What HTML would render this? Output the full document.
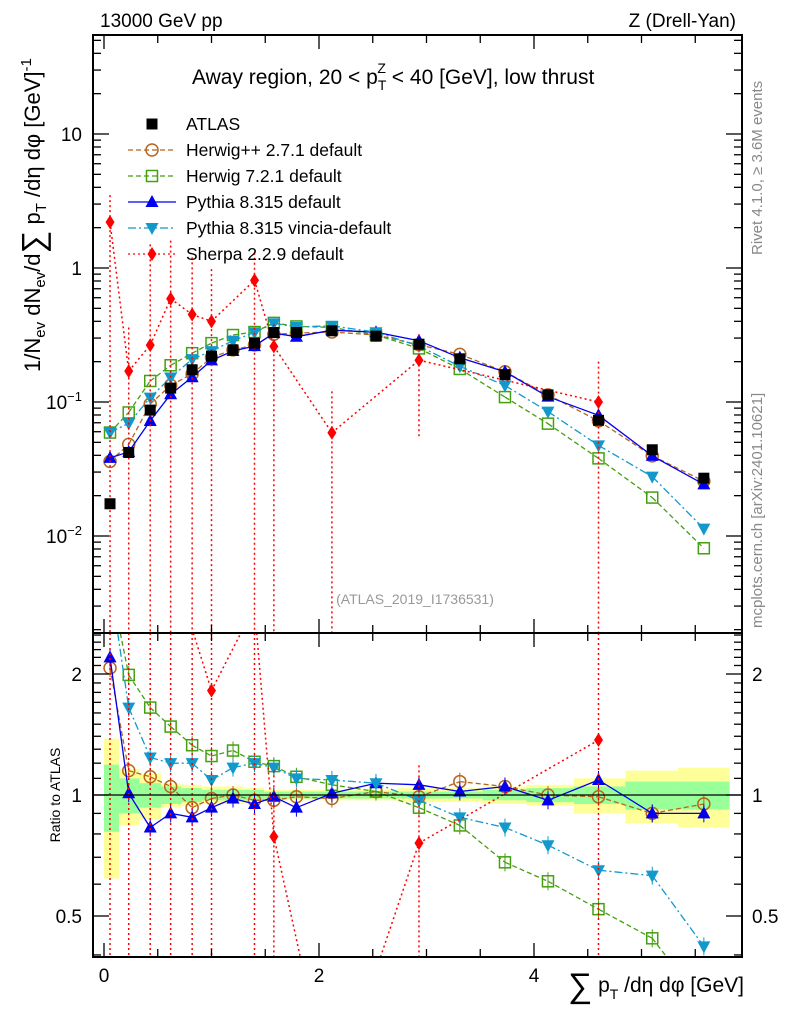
<!DOCTYPE html>
<html><head><meta charset="utf-8"><style>
html,body{margin:0;padding:0;background:#fff;width:786px;height:1024px;overflow:hidden;}
svg{display:block;font-family:"Liberation Sans",sans-serif;overflow:hidden;}
</style></head><body>
<svg id="chart" width="786" height="1024" viewBox="0 0 786 1024" xmlns="http://www.w3.org/2000/svg">
<g id="bands"></g>
<g id="series"></g>
<g id="axes"></g>
<text x="100" y="27" font-size="19">13000 GeV pp</text>
<text x="736" y="27" font-size="19" text-anchor="end">Z (Drell-Yan)</text>
<text x="192" y="84" font-size="21">Away region, 20 &lt; p<tspan font-size="14" dy="6">T</tspan><tspan font-size="14" dx="-9" dy="-17">Z</tspan><tspan dy="11"> &lt; 40 [GeV], low thrust</tspan></text>
<text x="415" y="604" font-size="14" fill="#999" text-anchor="middle">(ATLAS_2019_I1736531)</text>
<text transform="translate(762,255) rotate(-90)" font-size="15" fill="#888">Rivet 4.1.0, ≥ 3.6M events</text>
<text transform="translate(762,628) rotate(-90)" font-size="15" fill="#888">mcplots.cern.ch [arXiv:2401.10621]</text>
<text transform="translate(40,372) rotate(-90)" font-size="22">1/N<tspan font-size="15" dy="5">ev</tspan><tspan dy="-5"> dN</tspan><tspan font-size="15" dy="5">ev</tspan><tspan dy="-5">/d</tspan><tspan font-size="32" dy="4">∑</tspan><tspan dy="-4"> p</tspan><tspan font-size="15" dy="6">T</tspan><tspan dy="-6"> /dη dφ  [GeV]</tspan><tspan font-size="15" dy="-9">-1</tspan></text>
<text transform="translate(60,795) rotate(-90)" font-size="14" text-anchor="middle">Ratio to ATLAS</text>
<text x="744" y="992" font-size="21" text-anchor="end"><tspan font-size="34" dy="5">∑</tspan><tspan dy="-5"> p</tspan><tspan font-size="14" dy="7">T</tspan><tspan dy="-7"> /dη dφ [GeV]</tspan></text>
<g id="legend"></g>
</svg>
<script>
const xs      = [0.056,0.23,0.43,0.62,0.82,1.0,1.2,1.4,1.58,1.79,2.12,2.53,2.93,3.31,3.73,4.13,4.6,5.1,5.58];
const edges   = [0,0.14,0.33,0.53,0.72,0.91,1.1,1.3,1.49,1.69,1.95,2.33,2.73,3.12,3.52,3.93,4.37,4.85,5.34,5.82];
const atlas   = [0.0174,0.042,0.087,0.127,0.174,0.22,0.245,0.275,0.33,0.33,0.34,0.31,0.27,0.21,0.16,0.113,0.073,0.044,0.027];
const rHerwigpp = [2.07,1.15,1.11,1.05,0.93,0.98,1.0,0.97,0.97,0.99,0.98,1.02,0.99,1.08,1.05,1.0,0.99,0.9,0.95];
const rHerwig7  = [3.4,1.99,1.65,1.48,1.33,1.25,1.29,1.21,1.18,1.11,1.06,1.02,0.93,0.84,0.68,0.61,0.52,0.44,0.3];
const rPythia   = [2.2,1.01,0.83,0.9,0.88,0.93,0.98,0.95,0.99,0.93,1.01,1.07,1.06,1.02,1.05,0.97,1.09,0.9,0.9];
const rVincia   = [3.4,1.65,1.24,1.2,1.2,1.09,1.17,1.2,1.17,1.1,1.09,1.07,0.97,0.88,0.83,0.75,0.65,0.63,0.42];
const sherpaX   = [0.056,0.23,0.43,0.62,0.82,1.0,1.4,1.58,2.12,2.93,4.6];
const sherpaY   = [2.2,0.17,0.266,0.59,0.45,0.4,0.81,0.26,0.059,0.205,0.1];
const sherpaHi  = [3.5,0.36,1.5,1.6,1.2,0.98,1.3,0.38,0.12,0.32,0.2];
const sherpaLo  = [0.0001,0.0001,0.0001,0.0001,0.0001,0.0001,0.0001,0.0001,0.0001,0.054,0.0001];
const sherpaRatioAtlas = [0.0174,0.042,0.087,0.127,0.174,0.22,0.275,0.33,0.34,0.27,0.073];
const bandGreen  = [0.19,0.1,0.07,0.05,0.04,0.03,0.03,0.03,0.02,0.02,0.02,0.02,0.02,0.02,0.03,0.04,0.05,0.08,0.08];
const bandYellow = [0.38,0.16,0.13,0.07,0.06,0.05,0.05,0.04,0.03,0.03,0.03,0.03,0.04,0.04,0.05,0.06,0.1,0.15,0.17];
const xTicks = [0,2,4];
const yTickLabels = ["10","1","10⁻¹","10⁻²"];
const yTickVals = [10,1,0.1,0.01];
const rTickVals = [0.5,1,2];

const NS="http://www.w3.org/2000/svg";
const L=93,R=742,T1=35,B1=633,T2=633,B2=957;
const X=v=>104+v*107.5;
const Y1=v=>268-134*Math.log10(v);
const Y2=v=>795-121*Math.log2(v);
function el(tag,attrs,parent){const e=document.createElementNS(NS,tag);for(const k in attrs)e.setAttribute(k,attrs[k]);parent.appendChild(e);return e;}
const bands=document.getElementById('bands'),series=document.getElementById('series'),axes=document.getElementById('axes'),legend=document.getElementById('legend');
const cl=(y,t,b)=>Math.max(t,Math.min(b,y));
// clip polyline to y-range, returns path d
function clipPath(pts,t,b){
  let d='';
  for(let i=0;i<pts.length-1;i++){
    let [x0,y0]=pts[i],[x1,y1]=pts[i+1];
    if((y0<t&&y1<t)||(y0>b&&y1>b))continue;
    const f=(y)=>x0+(x1-x0)*(y-y0)/(y1-y0);
    if(y0<t){x0=f(t);y0=t;}else if(y0>b){x0=f(b);y0=b;}
    if(y1<t){x1=x0+(pts[i+1][0]-pts[i][0])*0+0; }
    let ex=pts[i+1][0],ey=pts[i+1][1];
    const g=(y)=>pts[i][0]+(pts[i+1][0]-pts[i][0])*(y-pts[i][1])/(pts[i+1][1]-pts[i][1]);
    if(ey<t){ex=g(t);ey=t;}else if(ey>b){ex=g(b);ey=b;}
    d+=`M${x0.toFixed(1)},${y0.toFixed(1)}L${ex.toFixed(1)},${ey.toFixed(1)}`;
  }
  return d;
}

for(let i=0;i<xs.length;i++){
  const x0=X(edges[i]),x1=X(edges[i+1]);
  const y=el('rect',{x:x0,y:Y2(1+bandYellow[i]),width:x1-x0,height:Y2(1-bandYellow[i])-Y2(1+bandYellow[i]),fill:'#ffff99'},bands);
  
  
  const g=el('rect',{x:x0,y:Y2(1+bandGreen[i]),width:x1-x0,height:Y2(1-bandGreen[i])-Y2(1+bandGreen[i]),fill:'#99ff99'},bands);
  
  
}
const g1=el('g',{},series),g2=el('g',{},series);

function marker(type,color,x,y,p){
  let m;
  if(type==='sq')m=el('rect',{x:x-5.5,y:y-5.5,width:11,height:11,fill:'none',stroke:color,'stroke-width':1.5},p);
  else if(type==='fsq')m=el('rect',{x:x-5.5,y:y-5.5,width:11,height:11,fill:color},p);
  else if(type==='circ')m=el('circle',{cx:x,cy:y,r:6,fill:'none',stroke:color,'stroke-width':1.5},p);
  else if(type==='tri')m=el('path',{d:`M${x},${y-7}L${x+6.5},${y+5}L${x-6.5},${y+5}Z`,fill:color},p);
  else if(type==='tdn')m=el('path',{d:`M${x},${y+7}L${x+6.5},${y-5}L${x-6.5},${y-5}Z`,fill:color},p);
  else m=el('path',{d:`M${x},${y-7}L${x+4.5},${y}L${x},${y+7}L${x-4.5},${y}Z`,fill:color},p);
  return m;
}
const inside=(y,t,b)=>y>=t+4&&y<=b-4;
const mcs=[
 {name:'herwigpp',label:'Herwig++ 2.7.1 default',r:rHerwigpp,color:'#b5651d',dash:'5,3',type:'circ'},
 {name:'herwig7',label:'Herwig 7.2.1 default',r:rHerwig7,color:'#44a010',dash:'5,3',type:'sq'},
 {name:'pythia',label:'Pythia 8.315 default',r:rPythia,color:'#0000ee',dash:'',type:'tri'},
 {name:'vincia',label:'Pythia 8.315 vincia-default',r:rVincia,color:'#1199cc',dash:'8,3,2,3',type:'tdn'},
];
mcs.forEach(s=>{
  const top=xs.map((x,i)=>[X(x),Y1(atlas[i]*s.r[i])]);
  const bot=xs.map((x,i)=>[X(x),Y2(s.r[i])]);
  const l1=el('path',{d:clipPath(top,T1,B1),fill:'none',stroke:s.color,'stroke-width':1.3,'stroke-dasharray':s.dash},g1);
  
  
  const l2=el('path',{d:clipPath(bot,T2,B2),fill:'none',stroke:s.color,'stroke-width':1.3,'stroke-dasharray':s.dash},g2);
  
  
  top.forEach(p=>{if(!inside(p[1],T1,B1))return;const m=marker(s.type,s.color,p[0],p[1],g1);});
  bot.forEach(p=>{if(!inside(p[1],T2,B2))return;el('line',{x1:p[0],x2:p[0],y1:cl(p[1]-9,T2,B2),y2:cl(p[1]+9,T2,B2),stroke:s.color,'stroke-width':1},g2);const m=marker(s.type,s.color,p[0],p[1],g2);});
});
const sc='#ff0000';
const st=sherpaX.map((x,i)=>[X(x),Y1(sherpaY[i])]);
const sl=el('path',{d:clipPath(st,T1,B1),fill:'none',stroke:sc,'stroke-width':1.5,'stroke-dasharray':'2,3'},g1);


st.forEach((p,i)=>{el('line',{x1:p[0],x2:p[0],y1:cl(Y1(sherpaHi[i]),T1,B1),y2:cl(Y1(sherpaLo[i]),T1,B1),stroke:sc,'stroke-width':1.5,'stroke-dasharray':'2,3'},g1);
 if(!inside(p[1],T1,B1))return;
 const m=marker('dia',sc,p[0],p[1],g1);});
const sb=sherpaX.map((x,i)=>[X(x),Y2(sherpaY[i]/sherpaRatioAtlas[i])]);
const sl2=el('path',{d:clipPath(sb,T2,B2),fill:'none',stroke:sc,'stroke-width':1.5,'stroke-dasharray':'2,3'},g2);


sb.forEach((p,i)=>{const a=cl(Y2(sherpaHi[i]/sherpaRatioAtlas[i]),T2,B2),b=cl(Y2(sherpaLo[i]/sherpaRatioAtlas[i]),T2,B2);
 if(b-a>0.5)el('line',{x1:p[0],x2:p[0],y1:a,y2:b,stroke:sc,'stroke-width':1.5,'stroke-dasharray':'2,3'},g2);
 if(!inside(p[1],T2,B2))return;
 const m=marker('dia',sc,p[0],p[1],g2);});
xs.forEach((x,i)=>{const m=marker('fsq','#000',X(x),Y1(atlas[i]),g1);});
el('line',{x1:L,x2:R,y1:Y2(1),y2:Y2(1),stroke:'#000','stroke-width':1.3},g2);

el('rect',{x:L,y:T1,width:R-L,height:B1-T1,fill:'none',stroke:'#000','stroke-width':2},axes);
el('rect',{x:L,y:T2,width:R-L,height:B2-T2,fill:'none',stroke:'#000','stroke-width':2},axes);
for(let v=0;v<=5.8;v+=0.5){const x=X(v),maj=Math.abs(v%2)<1e-6;const len=maj?14:8;
 [[T1,1],[B1,-1],[T2,1],[B2,-1]].forEach(([y,d])=>el('line',{x1:x,x2:x,y1:y,y2:y+d*len,stroke:'#000','stroke-width':1.3},axes));}
xTicks.forEach(v=>{const t=el('text',{x:X(v),y:982,'font-size':19,'text-anchor':'middle'},axes);t.textContent=v;});
for(let d=-3;d<=1;d++)for(let k=1;k<10;k++){const v=k*Math.pow(10,d);const y=Y1(v);if(y<T1||y>B1)continue;const len=k===1?16:8;
 el('line',{x1:L,x2:L+len,y1:y,y2:y,stroke:'#000','stroke-width':1.3},axes);el('line',{x1:R,x2:R-len,y1:y,y2:y,stroke:'#000','stroke-width':1.3},axes);}
yTickVals.forEach((v,i)=>{const t=el('text',{x:82,y:Y1(v)+7,'font-size':19,'text-anchor':'end'},axes);
 if(i<2)t.textContent=yTickLabels[i];else{t.textContent='10';const s=el('tspan',{'font-size':13,dy:-8},t);s.textContent=i===2?'−1':'−2';}
 });
for(let v=0.4;v<2.6;v+=0.1){const y=Y2(v);if(y<T2||y>B2)continue;const maj=[0.5,1,2].some(m=>Math.abs(m-v)<1e-6);const len=maj?16:8;
 el('line',{x1:L,x2:L+len,y1:y,y2:y,stroke:'#000','stroke-width':1.3},axes);el('line',{x1:R,x2:R-len,y1:y,y2:y,stroke:'#000','stroke-width':1.3},axes);}
rTickVals.forEach(v=>{[[82,'end'],[752,'start']].forEach(([x,a])=>{const t=el('text',{x:x,y:Y2(v)+7,'font-size':19,'text-anchor':a},axes);t.textContent=v;});});
const leg=[{label:'ATLAS',type:'fsq',color:'#000',dash:null,name:'atlas'},...mcs.map(s=>({label:s.label,type:s.type,color:s.color,dash:s.dash,name:s.name})),{label:'Sherpa 2.2.9 default',type:'dia',color:sc,dash:'2,3',name:'sherpa'}];
leg.forEach((e,i)=>{const y=124+i*26;const g=el('g',{},legend);
 
 
 if(e.dash!==null)el('line',{x1:128,x2:176,y1:y,y2:y,stroke:e.color,'stroke-width':1.3,'stroke-dasharray':e.dash},g);
 marker(e.type,e.color,152,y,g);
 const t=el('text',{x:186,y:y+6,'font-size':17.5},g);t.textContent=e.label;});
</script>
</body></html>
